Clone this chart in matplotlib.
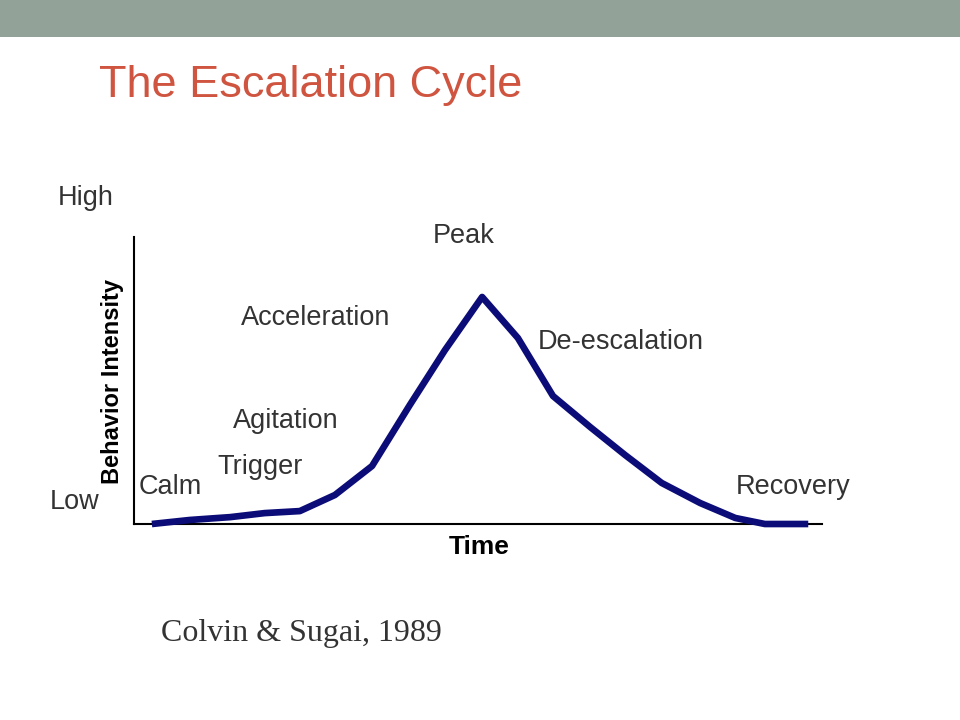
import matplotlib
matplotlib.use('Agg')
import matplotlib.pyplot as plt
from matplotlib.patches import Rectangle

# Escalation cycle curve (time and intensity on a 0-100 scale)
time_pts = [2.6, 8.1, 14.0, 19.0, 24.1, 29.2, 34.6, 40.1, 45.2, 50.6,
            55.8, 60.9, 66.3, 71.4, 76.7, 82.3, 87.4, 91.7, 98.0]
intensity = [0.0, 1.4, 2.4, 3.8, 4.5, 10.1, 20.2, 41.5, 60.6, 79.1,
             64.8, 44.6, 33.8, 24.0, 14.3, 7.3, 2.1, 0.0, 0.0]

# phase labels with their pixel anchor (centre x, centre y)
phase_labels = ['Peak', 'Acceleration', 'De-escalation', 'Agitation',
                'Trigger', 'Calm', 'Recovery']
phase_pos = [(464, 236), (316, 318), (621, 342), (286, 421),
             (260, 467), (170, 487), (793, 487)]

W, H = 960, 720
fig = plt.figure(figsize=(W / 100, H / 100), dpi=100)
fig.patch.set_facecolor('white')

def px(x, y):
    return x / W, 1 - y / H

# top banner
fig.patches.append(Rectangle((0, 1 - 37 / H), 1, 37 / H, transform=fig.transFigure,
                             facecolor='#93a299', edgecolor='none'))

fig.text(*px(99, 86), 'The Escalation Cycle', fontsize=32.5, color='#cf5540',
         family='Liberation Sans', ha='left', va='center')

ax = fig.add_axes([134 / W, 1 - 524 / H, 688 / W, 287 / H])
ax.plot(time_pts, intensity, color='#0c0c78', lw=4.8, solid_joinstyle='round',
        solid_capstyle='butt', clip_on=False, zorder=3)
ax.set_xlim(0, 100)
ax.set_ylim(0, 100)
ax.set_xticks([])
ax.set_yticks([])
for s in ['top', 'right']:
    ax.spines[s].set_visible(False)
for s in ['left', 'bottom']:
    ax.spines[s].set_linewidth(1.5)
    ax.spines[s].set_color('black')

txt_kw = dict(fontsize=19.5, color='#333333', family='Liberation Sans',
              ha='center', va='center')
for lab, (x, y) in zip(phase_labels, phase_pos):
    fig.text(*px(x, y), lab, **txt_kw)
fig.text(*px(86, 198), 'High', **txt_kw)
fig.text(*px(75, 502), 'Low', **txt_kw)

fig.text(*px(112, 381), 'Behavior Intensity', fontsize=17, fontweight='bold',
         family='Liberation Sans', rotation=90, ha='center', va='center', color='black')
fig.text(*px(479, 547), 'Time', fontsize=19, fontweight='bold',
         family='Liberation Sans', ha='center', va='center', color='black')

fig.text(*px(301, 634), 'Colvin & Sugai, 1989', fontsize=23, color='#333333',
         family='Liberation Serif', ha='center', va='center')

fig.savefig('out.png', dpi=100)
